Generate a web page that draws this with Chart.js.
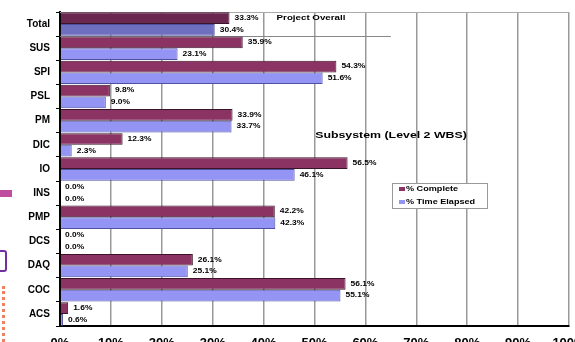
<!DOCTYPE html>
<html>
<head>
<meta charset="utf-8">
<script src="https://cdn.jsdelivr.net/npm/chart.js@4.4.0/dist/chart.umd.min.js"></script>
<style>
html, body { margin: 0; padding: 0; background: #fff; overflow: hidden; }
#wrap { position: relative; width: 575px; height: 342px; }
canvas { display: block; }
.deco { position: absolute; }
</style>
</head>
<body>
<div id="wrap">
    <canvas id="progressChart" width="575" height="342"></canvas>
    <div class="deco" style="left:0;top:190px;width:12px;height:7px;background:#c04ca0"></div>
    <div class="deco" style="left:-5px;top:250px;width:8px;height:18px;border:2px solid #7030a0;border-radius:3px"></div>
    <div class="deco" style="left:2px;top:286px;width:0;height:56px;border-left:3px dotted #f08060"></div>
</div>
<script>
// WBS progress chart

const subsystems = ['Total', 'SUS', 'SPI', 'PSL', 'PM', 'DIC', 'IO', 'INS', 'PMP', 'DCS', 'DAQ', 'COC', 'ACS'];
const actualPct = [33.3, 35.9, 54.3, 9.8, 33.9, 12.3, 56.5, 0.0, 42.2, 0.0, 26.1, 56.1, 1.6];
const plannedPct = [30.4, 23.1, 51.6, 9.0, 33.7, 2.3, 46.1, 0.0, 42.3, 0.0, 25.1, 55.1, 0.6];
const seriesNames = ['% Complete', '% Time Elapsed'];
const xTickStep = 10;

const FONT = '"Liberation Sans", Arial, sans-serif';

// stretched small text, like the original export
function wideText(ctx, text, x, y, size, align) {
    ctx.save();
    ctx.font = 'bold ' + size + 'px ' + FONT;
    ctx.fillStyle = '#000';
    ctx.textBaseline = 'middle';
    const w = ctx.measureText(text).width * 1.3;
    let sx = x;
    if (align === 'center') sx = x - w / 2;
    ctx.translate(sx, y);
    ctx.scale(1.3, 1);
    ctx.textAlign = 'left';
    ctx.fillText(text, 0, 0);
    ctx.restore();
}

const overlayPlugin = {
    id: 'overlay',
    beforeDatasetsDraw(chart) {
        const { ctx, chartArea, scales } = chart;
        ctx.save();
        // top frame line
        ctx.strokeStyle = '#aaa';
        ctx.lineWidth = 1;
        ctx.beginPath();
        ctx.moveTo(chartArea.left, chartArea.top + 0.5);
        ctx.lineTo(chartArea.right, chartArea.top + 0.5);
        ctx.stroke();
        // separator under the project total
        const y0 = scales.y.getPixelForValue(0);
        const y1 = scales.y.getPixelForValue(1);
        const sy = Math.round((y0 + y1) / 2) + 0.5;
        ctx.strokeStyle = '#888';
        ctx.beginPath();
        ctx.moveTo(chartArea.left, sy);
        ctx.lineTo(scales.x.getPixelForValue(65), sy);
        ctx.stroke();
        ctx.restore();
    },
    afterDatasetsDraw(chart) {
        const { ctx } = chart;
        chart.data.datasets.forEach((ds, di) => {
            const meta = chart.getDatasetMeta(di);
            meta.data.forEach((bar, i) => {
                wideText(ctx, ds.data[i].toFixed(1) + '%', bar.x + 5, bar.y, 6.5, 'left');
            });
        });

        wideText(ctx, 'Project Overall', 311, 18, 7.5, 'center');
        wideText(ctx, 'Subsystem (Level 2 WBS)', 391, 135, 9.5, 'center');

        // legend box
        ctx.save();
        ctx.fillStyle = '#fff';
        ctx.fillRect(392, 183, 95, 25);
        ctx.strokeStyle = '#999';
        ctx.lineWidth = 1;
        ctx.strokeRect(392.5, 183.5, 95, 25);
        const swatch = ['#8b3464', '#9494f4'];
        chart.data.datasets.forEach((ds, di) => {
            const ly = 189 + di * 13;
            ctx.fillStyle = swatch[di];
            ctx.fillRect(399, ly - 2, 6, 4);
            wideText(ctx, ds.label, 406, ly, 7, 'left');
        });
        ctx.restore();
    }
};

new Chart(document.getElementById('progressChart'), {
    type: 'bar',
    data: {
        labels: subsystems,
        datasets: [
            {
                label: seriesNames[0],
                data: actualPct,
                backgroundColor: ctx => ctx.dataIndex === 0 ? '#6a2850' : '#8b3464',
                borderColor: '#3a1428',
                borderWidth: 1,
                categoryPercentage: 0.97,
                barPercentage: 1.0
            },
            {
                label: seriesNames[1],
                data: plannedPct,
                backgroundColor: ctx => ctx.dataIndex === 0 ? '#6f6fc0' : '#9494f4',
                borderColor: '#5050a0',
                borderWidth: 1,
                categoryPercentage: 0.97,
                barPercentage: 1.0
            }
        ]
    },
    options: {
        indexAxis: 'y',
        responsive: false,
        animation: false,
        layout: { padding: { left: 0, right: 6, top: 5, bottom: 0 } },
        plugins: {
            legend: { display: false },
            tooltip: { enabled: false }
        },
        scales: {
            x: {
                min: 0,
                max: 100,
                ticks: {
                    stepSize: xTickStep,
                    callback: v => v + '%',
                    color: '#000',
                    font: { family: FONT, size: 13, weight: 'bold' },
                    padding: 10,
                    maxRotation: 0,
                    autoSkip: false
                },
                grid: { color: '#999', lineWidth: 1.5, drawTicks: false },
                border: { color: '#000', width: 2 },
                afterFit: s => { s.height = 16; s.paddingLeft = 0; s.paddingRight = 0; }
            },
            y: {
                ticks: {
                    color: '#000',
                    font: { family: FONT, size: 10, weight: 'bold' },
                    padding: 6
                },
                grid: { offset: true, drawOnChartArea: false, tickLength: 4, color: '#000' },
                border: { color: '#000', width: 2 },
                afterFit: s => { s.width = 60; }
            }
        }
    },
    plugins: [overlayPlugin]
});
</script>
</body>
</html>
